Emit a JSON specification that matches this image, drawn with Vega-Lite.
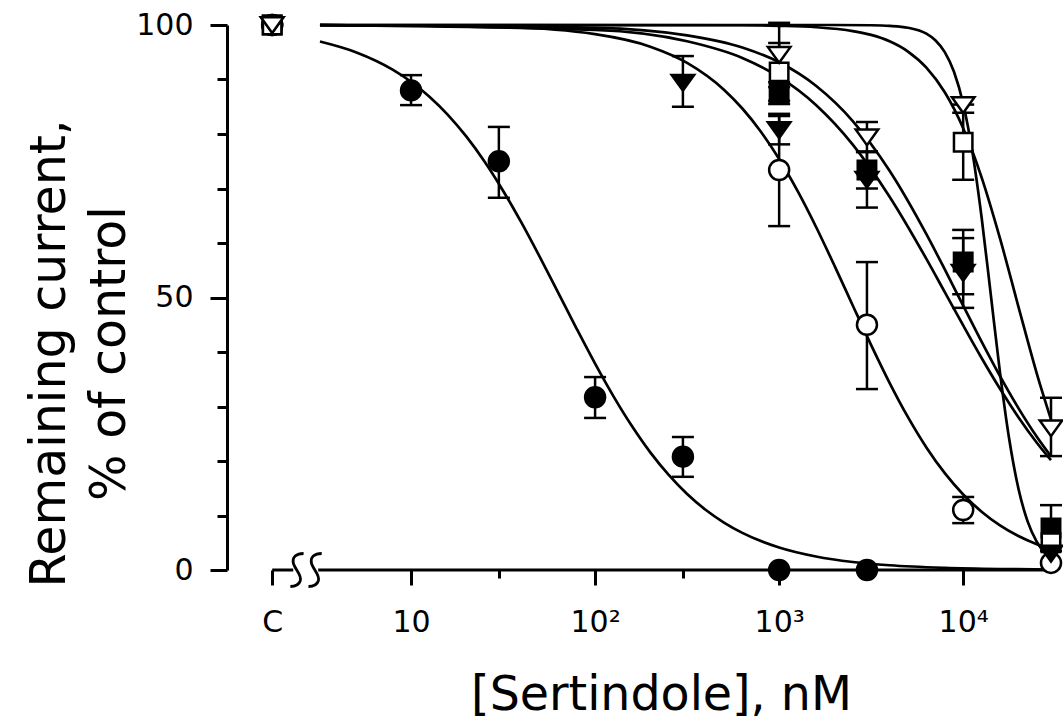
{
  "$schema": "https://vega.github.io/schema/vega-lite/v6.json",
  "width": 824,
  "height": 545,
  "autosize": {"type": "none"},
  "padding": {"left": 227, "top": 25, "right": 12, "bottom": 150},
  "background": "white",
  "config": {"view": {"stroke": null}, "font": "DejaVu Sans"},
  "resolve": {"axis": {"x": "independent", "y": "independent"}},
  "datasets": {
    "curves": [
      {"c":"A","x":3.2,"y":96.97},{"c":"A","x":5.012,"y":95.01},{"c":"A","x":7.943,"y":91.81},{"c":"A","x":10,"y":89.59},{"c":"A","x":12.59,"y":86.85},{"c":"A","x":15.85,"y":83.52},{"c":"A","x":19.95,"y":79.55},{"c":"A","x":25.12,"y":74.91},{"c":"A","x":31.62,"y":69.6},{"c":"A","x":39.81,"y":63.73},{"c":"A","x":50.12,"y":57.41},{"c":"A","x":63.1,"y":50.85},{"c":"A","x":79.43,"y":44.26},{"c":"A","x":100,"y":37.86},{"c":"A","x":125.9,"y":31.86},{"c":"A","x":158.5,"y":26.41},{"c":"A","x":199.5,"y":21.58},{"c":"A","x":251.2,"y":17.44},{"c":"A","x":316.2,"y":13.95},{"c":"A","x":398.1,"y":11.06},{"c":"A","x":501.2,"y":8.71},{"c":"A","x":631,"y":6.82},{"c":"A","x":1000,"y":4.13},{"c":"A","x":1585,"y":2.48},{"c":"A","x":2512,"y":1.47},{"c":"A","x":3981,"y":0.87},{"c":"A","x":7943,"y":0.4},{"c":"A","x":15849,"y":0.18},{"c":"A","x":30000,"y":0.09},
      {"c":"B","x":3.2,"y":99.98},{"c":"B","x":31.62,"y":99.61},{"c":"B","x":100,"y":98.32},{"c":"B","x":199.5,"y":96.02},{"c":"B","x":316.2,"y":93.05},{"c":"B","x":501.2,"y":88.13},{"c":"B","x":631,"y":84.68},{"c":"B","x":794.3,"y":80.46},{"c":"B","x":1000,"y":75.41},{"c":"B","x":1259,"y":69.55},{"c":"B","x":1585,"y":62.98},{"c":"B","x":1995,"y":55.89},{"c":"B","x":2512,"y":48.54},{"c":"B","x":3162,"y":41.27},{"c":"B","x":3981,"y":34.35},{"c":"B","x":5012,"y":28.04},{"c":"B","x":6310,"y":22.49},{"c":"B","x":7943,"y":17.77},{"c":"B","x":10000,"y":13.86},{"c":"B","x":12589,"y":10.7},{"c":"B","x":15849,"y":8.19},{"c":"B","x":19953,"y":6.23},{"c":"B","x":25119,"y":4.72},{"c":"B","x":30000,"y":3.79},
      {"c":"C","x":3.2,"y":99.98},{"c":"C","x":100,"y":99.11},{"c":"C","x":316.2,"y":97.01},{"c":"C","x":631,"y":93.95},{"c":"C","x":1000,"y":90.47},{"c":"C","x":1585,"y":85.32},{"c":"C","x":2512,"y":78.05},{"c":"C","x":3981,"y":68.5},{"c":"C","x":6310,"y":57.09},{"c":"C","x":7943,"y":50.99},{"c":"C","x":10000,"y":44.87},{"c":"C","x":12589,"y":38.9},{"c":"C","x":15849,"y":33.25},{"c":"C","x":19953,"y":28.03},{"c":"C","x":25119,"y":23.35},{"c":"C","x":30000,"y":20.14},
      {"c":"D","x":3.2,"y":100},{"c":"D","x":100,"y":99.49},{"c":"D","x":316.2,"y":98.1},{"c":"D","x":631,"y":95.87},{"c":"D","x":1000,"y":93.16},{"c":"D","x":1585,"y":88.86},{"c":"D","x":2512,"y":82.38},{"c":"D","x":3981,"y":73.27},{"c":"D","x":6310,"y":61.63},{"c":"D","x":7943,"y":55.15},{"c":"D","x":10000,"y":48.5},{"c":"D","x":12589,"y":41.89},{"c":"D","x":15849,"y":35.56},{"c":"D","x":19953,"y":29.7},{"c":"D","x":25119,"y":24.44},{"c":"D","x":30000,"y":20.84},
      {"c":"E","x":3.2,"y":100},{"c":"E","x":1000,"y":100},{"c":"E","x":1995,"y":100},{"c":"E","x":3162,"y":99.95},{"c":"E","x":3981,"y":99.84},{"c":"E","x":5012,"y":99.5},{"c":"E","x":6310,"y":98.41},{"c":"E","x":7079,"y":97.17},{"c":"E","x":7943,"y":95.03},{"c":"E","x":8913,"y":91.41},{"c":"E","x":10000,"y":85.55},{"c":"E","x":11220,"y":76.72},{"c":"E","x":12589,"y":64.72},{"c":"E","x":14125,"y":50.52},{"c":"E","x":15849,"y":36.23},{"c":"E","x":17783,"y":24.03},{"c":"E","x":19953,"y":14.96},{"c":"E","x":22387,"y":8.92},{"c":"E","x":25119,"y":5.17},{"c":"E","x":27542,"y":3.3},{"c":"E","x":30000,"y":2.16},
      {"c":"F","x":3.2,"y":100},{"c":"F","x":631,"y":99.95},{"c":"F","x":1000,"y":99.85},{"c":"F","x":1585,"y":99.6},{"c":"F","x":2512,"y":98.89},{"c":"F","x":3162,"y":98.18},{"c":"F","x":3981,"y":97.01},{"c":"F","x":5012,"y":95.13},{"c":"F","x":6310,"y":92.18},{"c":"F","x":7943,"y":87.65},{"c":"F","x":10000,"y":81.06},{"c":"F","x":12589,"y":72.05},{"c":"F","x":15849,"y":60.84},{"c":"F","x":19953,"y":48.34},{"c":"F","x":25119,"y":36.05},{"c":"F","x":30000,"y":27.63}
    ],
    "pts": [
      {"s":"fc","x":1.76,"y":100},{"s":"fc","x":10,"y":88,"lo":85.3,"hi":90.8},{"s":"fc","x":30,"y":75,"lo":68.3,"hi":81.3},{"s":"fc","x":100,"y":31.7,"lo":27.9,"hi":35.4},{"s":"fc","x":300,"y":20.8,"lo":17.1,"hi":24.4},{"s":"fc","x":1000,"y":0},{"s":"fc","x":3000,"y":0},
      {"s":"oc","x":1.76,"y":100},{"s":"oc","x":1000,"y":73.4,"lo":63.1,"hi":83.7},{"s":"oc","x":3000,"y":45,"lo":33.2,"hi":56.5},{"s":"oc","x":10000,"y":11,"lo":8.6,"hi":13.4},{"s":"oc","x":30000,"y":1.3},
      {"s":"fs","x":1.76,"y":100},{"s":"fs","x":1000,"y":87.5,"lo":85.5,"hi":89.5},{"s":"fs","x":3000,"y":73.4,"lo":70,"hi":76.8},{"s":"fs","x":10000,"y":56.5,"lo":50.6,"hi":62.4},{"s":"fs","x":30000,"y":7.7,"lo":3.5,"hi":11.9},
      {"s":"os","x":1.76,"y":100},{"s":"os","x":1000,"y":91.4,"lo":86.1,"hi":96.7},{"s":"os","x":10000,"y":78.5,"lo":71.6,"hi":85.4},{"s":"os","x":30000,"y":5},
      {"s":"ft","x":1.76,"y":100},{"s":"ft","x":300,"y":89.4,"lo":85,"hi":94.3},{"s":"ft","x":1000,"y":80.7,"lo":78.1,"hi":83.3},{"s":"ft","x":3000,"y":71.6,"lo":66.5,"hi":76.7},{"s":"ft","x":10000,"y":54.5,"lo":48.1,"hi":60.9},{"s":"ft","x":30000,"y":3},
      {"s":"ot","x":1.76,"y":100},{"s":"ot","x":1000,"y":94.5,"lo":88.6,"hi":100.4},{"s":"ot","x":3000,"y":79.4,"lo":76.7,"hi":82.2},{"s":"ot","x":10000,"y":85.3,"lo":83.9,"hi":86.7},{"s":"ot","x":30000,"y":26,"lo":20.9,"hi":31.6}
    ]
  },
  "layer": [
    {
      "data": {"name": "curves"},
      "mark": {"type": "line", "interpolate": "monotone", "color": "black", "strokeWidth": 2.7},
      "encoding": {
        "x": {
          "field": "x", "type": "quantitative",
          "scale": {"type": "log", "domain": [1, 30000], "nice": false},
          "axis": {
            "orient": "bottom",
            "values": [1.76, 10, 100, 1000, 10000],
            "domain": false, "grid": false,
            "ticks": true, "tickColor": "black", "tickWidth": 3, "tickSize": 15,
            "labelExpr": "datum.value < 2 ? 'C' : datum.value == 10 ? '10' : datum.value == 100 ? '10²' : datum.value == 1000 ? '10³' : datum.value == 10000 ? '10⁴' : ''",
            "labelFont": "DejaVu Sans", "labelFontSize": 30, "labelColor": "black",
            "labelPadding": 22, "labelFlush": false, "labelOverlap": false, "labelBound": false,
            "title": "[Sertindole], nM",
            "titleFont": "DejaVu Sans", "titleFontSize": 47.5, "titleFontWeight": "normal", "titleColor": "black",
            "titleX": 434, "titleY": 139, "titleBaseline": "alphabetic", "titleAlign": "center"
          }
        },
        "y": {
          "field": "y", "type": "quantitative",
          "scale": {"domain": [0, 100], "nice": false},
          "axis": {
            "orient": "left",
            "values": [0, 50, 100],
            "domain": true, "domainColor": "black", "domainWidth": 3, "grid": false,
            "ticks": true, "tickColor": "black", "tickWidth": 3, "tickSize": 17,
            "labelFont": "DejaVu Sans", "labelFontSize": 30, "labelColor": "black",
            "labelPadding": 17, "labelFlush": false, "labelOverlap": false, "labelBound": false,
            "title": ["Remaining current,", "% of control"],
            "titleFont": "DejaVu Sans", "titleFontSize": 49, "titleFontWeight": "normal", "titleColor": "black",
            "titleAngle": -90, "titleX": -163, "titleY": 328, "titleBaseline": "alphabetic", "titleAlign": "center",
            "titleLineHeight": 60
          }
        },
        "detail": {"field": "c", "type": "nominal"}
      }
    },
    {
      "data": {"values": [{}]},
      "mark": {"type": "rule", "color": "black", "strokeWidth": 3},
      "encoding": {
        "x": {"datum": 1.76, "type": "quantitative", "axis": null},
        "x2": {"datum": 2.29},
        "y": {"datum": 0, "type": "quantitative", "axis": null}
      }
    },
    {
      "data": {"values": [{}]},
      "mark": {"type": "rule", "color": "black", "strokeWidth": 3},
      "encoding": {
        "x": {"datum": 3.13, "type": "quantitative",
          "axis": {"orient": "bottom", "values": [30, 300, 3000], "domain": false, "grid": false, "labels": false, "title": null,
                   "ticks": true, "tickColor": "black", "tickWidth": 3, "tickSize": 8}},
        "x2": {"datum": 30000},
        "y": {"datum": 0, "type": "quantitative",
          "axis": {"orient": "left", "values": [10, 20, 30, 40, 60, 70, 80, 90], "domain": false, "grid": false, "labels": false, "title": null,
                   "ticks": true, "tickColor": "black", "tickWidth": 3, "tickSize": 10}}
      }
    },
    {
      "data": {"values": [{}]},
      "mark": {"type": "point", "shape": "M0.4,-1 C0,-1 -0.35,-0.8 -0.2,-0.35 C-0.05,0.05 0.3,0.3 0.2,0.65 C0.12,0.9 -0.1,1 -0.4,1", "size": 1089, "filled": false, "stroke": "black", "strokeWidth": 2.8, "opacity": 1},
      "encoding": {
        "x": {"datum": 2.4, "type": "quantitative", "axis": null},
        "y": {"datum": 0, "type": "quantitative", "axis": null}
      }
    },
    {
      "data": {"values": [{}]},
      "mark": {"type": "point", "shape": "M0.4,-1 C0,-1 -0.35,-0.8 -0.2,-0.35 C-0.05,0.05 0.3,0.3 0.2,0.65 C0.12,0.9 -0.1,1 -0.4,1", "size": 1089, "filled": false, "stroke": "black", "strokeWidth": 2.8, "opacity": 1},
      "encoding": {
        "x": {"datum": 3.01, "type": "quantitative", "axis": null},
        "y": {"datum": 0, "type": "quantitative", "axis": null}
      }
    },
    {
      "data": {"name": "pts"},
      "transform": [{"filter": "isValid(datum.hi)"}],
      "mark": {"type": "rule", "color": "black", "strokeWidth": 2.5},
      "encoding": {
        "x": {"field": "x", "type": "quantitative", "axis": null},
        "y": {"field": "lo", "type": "quantitative", "axis": null},
        "y2": {"field": "hi"}
      }
    },
    {
      "data": {"name": "pts"},
      "transform": [{"filter": "isValid(datum.hi)"}],
      "mark": {"type": "tick", "orient": "horizontal", "size": 22, "thickness": 2.5, "color": "black", "opacity": 1},
      "encoding": {
        "x": {"field": "x", "type": "quantitative", "axis": null},
        "y": {"field": "lo", "type": "quantitative", "axis": null}
      }
    },
    {
      "data": {"name": "pts"},
      "transform": [{"filter": "isValid(datum.hi)"}],
      "mark": {"type": "tick", "orient": "horizontal", "size": 22, "thickness": 2.5, "color": "black", "opacity": 1},
      "encoding": {
        "x": {"field": "x", "type": "quantitative", "axis": null},
        "y": {"field": "hi", "type": "quantitative", "axis": null}
      }
    },
    {
      "data": {"name": "pts"},
      "transform": [{"filter": "datum.s == 'fc' || datum.s == 'oc'"}],
      "mark": {"type": "point", "shape": "circle", "size": 400, "filled": true, "stroke": "black", "strokeWidth": 2.5, "opacity": 1},
      "encoding": {
        "x": {"field": "x", "type": "quantitative", "axis": null},
        "y": {"field": "y", "type": "quantitative", "axis": null},
        "fill": {"field": "s", "type": "nominal", "scale": {"domain": ["fc", "oc", "fs", "os", "ft", "ot"], "range": ["black", "white", "black", "white", "black", "white"]}, "legend": null}
      }
    },
    {
      "data": {"name": "pts"},
      "transform": [{"filter": "datum.s == 'fs' || datum.s == 'os'"}],
      "mark": {"type": "point", "shape": "square", "size": 340, "filled": true, "stroke": "black", "strokeWidth": 2.5, "opacity": 1},
      "encoding": {
        "x": {"field": "x", "type": "quantitative", "axis": null},
        "y": {"field": "y", "type": "quantitative", "axis": null},
        "fill": {"field": "s", "type": "nominal", "scale": {"domain": ["fc", "oc", "fs", "os", "ft", "ot"], "range": ["black", "white", "black", "white", "black", "white"]}, "legend": null}
      }
    },
    {
      "data": {"name": "pts"},
      "transform": [{"filter": "datum.s == 'ft' || datum.s == 'ot'"}],
      "mark": {"type": "point", "shape": "M-1,-0.7L1,-0.7L0,0.7Z", "size": 506, "filled": true, "stroke": "black", "strokeWidth": 2.5, "opacity": 1},
      "encoding": {
        "x": {"field": "x", "type": "quantitative", "axis": null},
        "y": {"field": "y", "type": "quantitative", "axis": null},
        "fill": {"field": "s", "type": "nominal", "scale": {"domain": ["fc", "oc", "fs", "os", "ft", "ot"], "range": ["black", "white", "black", "white", "black", "white"]}, "legend": null}
      }
    }
  ]
}
